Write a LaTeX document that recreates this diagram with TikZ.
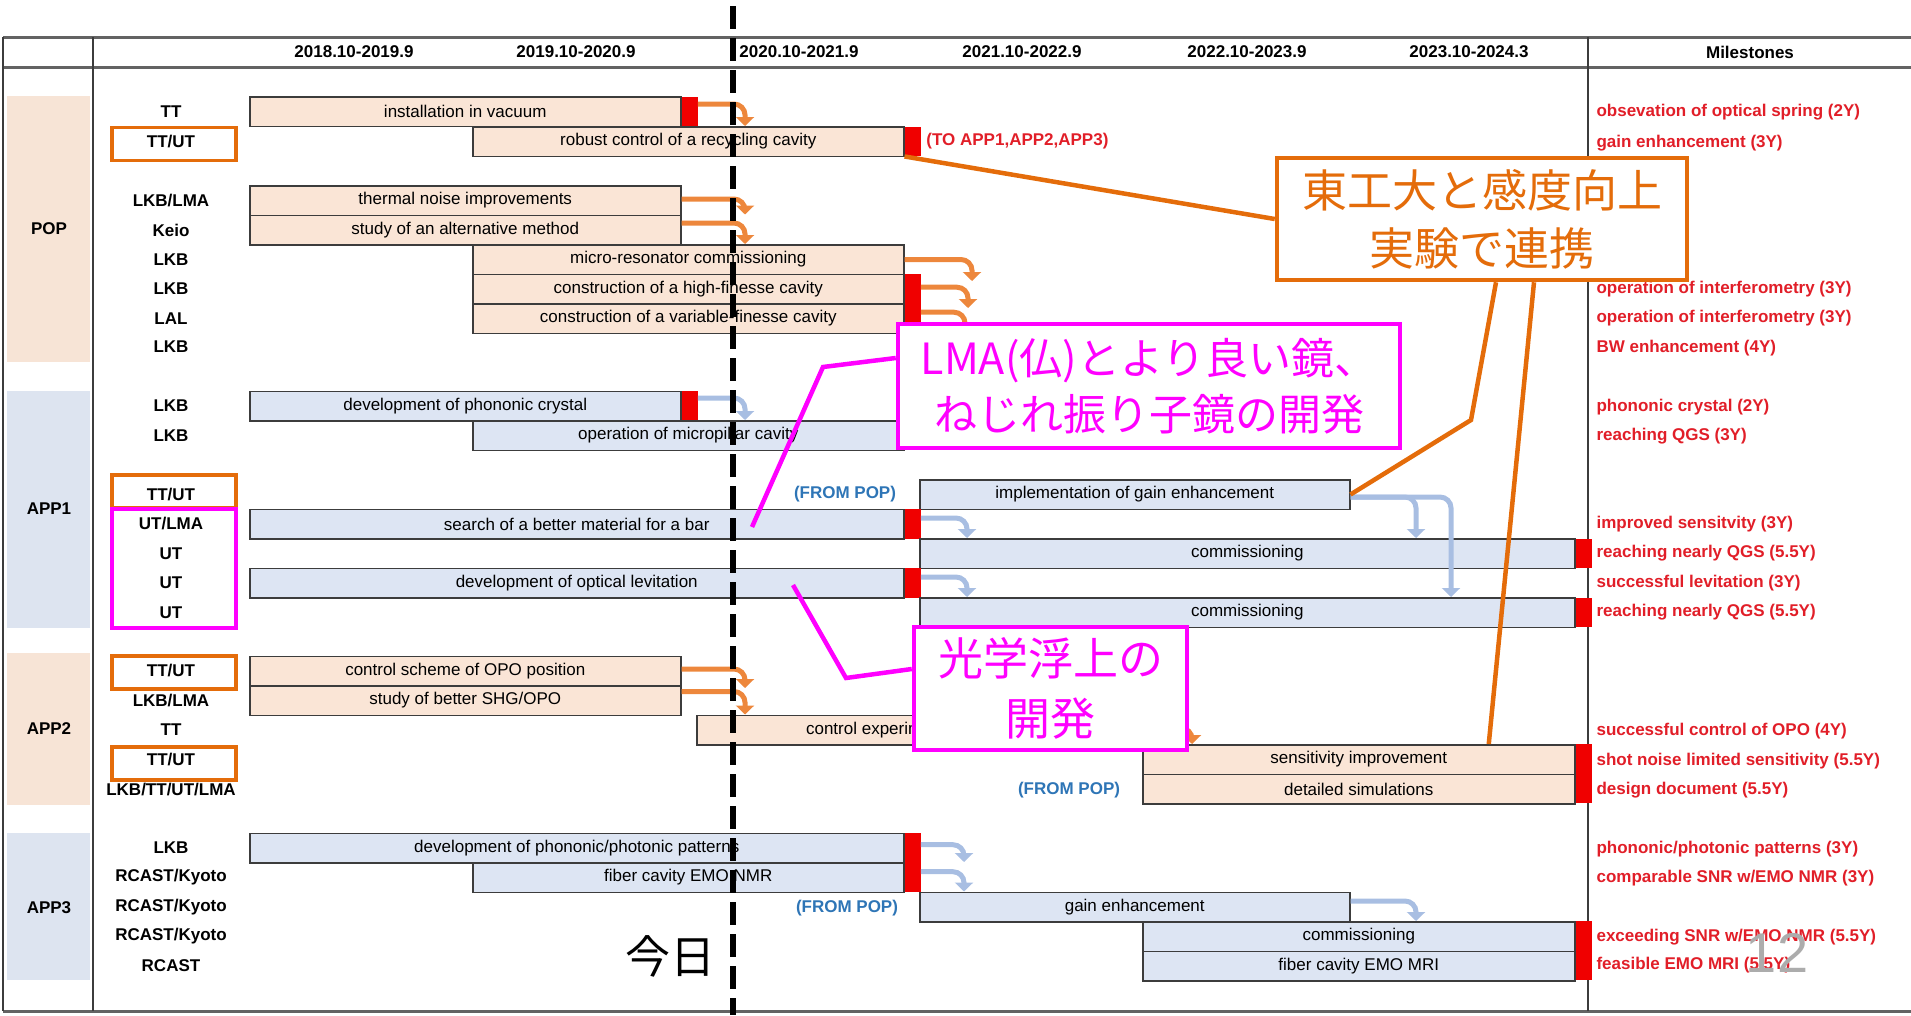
\documentclass[tikz,border=0pt]{standalone}
\usepackage{fontspec}
\setmainfont{Liberation Sans}
\newfontfamily\cjk{Noto Sans CJK JP}
\usetikzlibrary{arrows.meta}
\definecolor{popfill}{RGB}{250,229,214}
\definecolor{appfill}{RGB}{221,229,243}
\definecolor{popband}{RGB}{247,228,214}
\definecolor{appband}{RGB}{221,228,240}
\definecolor{markred}{RGB}{240,0,0}
\definecolor{milered}{RGB}{225,30,40}
\definecolor{fromblue}{RGB}{46,117,182}
\definecolor{noteorange}{RGB}{228,108,10}
\definecolor{notemag}{RGB}{255,0,255}
\definecolor{flowor}{RGB}{237,135,60}
\definecolor{flowbl}{RGB}{168,190,226}
\definecolor{gridgray}{RGB}{60,60,60}
\tikzset{
  popbar/.style={draw=gridgray, line width=1.5pt, fill=popfill, anchor=west,
    minimum height=29.5pt, inner sep=0pt, font=\fontsize{17}{20}\selectfont},
  appbar/.style={popbar, fill=appfill},
  redmark/.style={fill=markred, anchor=west, minimum width=16pt,
    minimum height=29.5pt, inner sep=0pt},
  rowlab/.style={font=\bfseries\fontsize{17}{20}\selectfont},
  mile/.style={anchor=west, text=milered, font=\bfseries\fontsize{17}{20}\selectfont},
  frompop/.style={text=fromblue, font=\bfseries\fontsize{17}{20}\selectfont},
  oflow/.style={draw=flowor, line width=5pt, rounded corners=11pt,
    -{Triangle[length=9pt,width=18pt]}},
  bflow/.style={oflow, draw=flowbl},
  labbox/.style={draw=noteorange, line width=3.5pt, minimum width=124pt,
    minimum height=33pt, inner sep=0pt},
  note/.style={draw=noteorange, line width=4.5pt, fill=white, text=noteorange,
    align=center, inner sep=0pt, font=\cjk\fontsize{45}{58}\selectfont},
  mnote/.style={note, draw=notemag, text=notemag},
  noteline/.style={draw=noteorange, line width=4.5pt},
  mline/.style={draw=notemag, line width=4.5pt}
}
\begin{document}
\begin{tikzpicture}[x=1pt,y=-1pt]
\useasboundingbox (0,0) rectangle (1911,1015);
\fill[popband] (7,96) rectangle (90,362);
\fill[appband] (7,391) rectangle (90,628);
\fill[popband] (7,653) rectangle (90,805);
\fill[appband] (7,833) rectangle (90,980);
\draw[gridgray!80, line width=3pt] (3,37) -- (1911,37) (3,67) -- (1911,67) (3,1011) -- (1911,1011);
\draw[gridgray, line width=1.5pt] (3,37) -- (3,1011) (93,37) -- (93,1011) (1588,37) -- (1588,1011);

\foreach \x/\t [count=\i] in {354/{2018.10-2019.9}, 576/{2019.10-2020.9}, 799/{2020.10-2021.9},
  1022/{2021.10-2022.9}, 1247/{2022.10-2023.9}, 1469/{2023.10-2024.3}, 1750/{Milestones}}
  \node[rowlab] (hd\i) at (\x,52) {\t};
\node[rowlab] (gPOP) at (49,229) {POP};
\node[rowlab] (gAPP1) at (49,509) {APP1};
\node[rowlab] (gAPP2) at (49,729) {APP2};
\node[rowlab] (gAPP3) at (49,908) {APP3};
\foreach \y/\t [count=\i] in {111.5/TT, 141.5/{TT/UT}, 200.5/{LKB/LMA}, 230/Keio, 259.5/LKB,
  289/LKB, 318.5/LAL, 347/LKB, 406/LKB, 435.5/LKB, 494.5/{TT/UT}, 524/{UT/LMA}, 553.5/UT,
  583/UT, 612.5/UT, 671/{TT/UT}, 700.5/{LKB/LMA}, 730/TT, 759.5/{TT/UT}, 789/{LKB/TT/UT/LMA},
  848/LKB, 877.5/{RCAST/Kyoto}, 907/{RCAST/Kyoto}, 936.5/{RCAST/Kyoto}, 966/RCAST}
  \node[rowlab] (row\i) at (171,\y) {\t};

\node[popbar, minimum width=431pt] (vac) at (249,111.5) {installation in vacuum};
\node[redmark] (vacR) at (vac.east) {};
\node[popbar, minimum width=431pt] (rob) at (472,141.5) {robust control of a recycling cavity};
\node[redmark] (robR) at (rob.east) {};
\node[mile] (toApp) at ([xshift=2pt]robR.east) {(TO APP1,APP2,APP3)};
\node[popbar, minimum width=431pt] (thn) at (249,200.5) {thermal noise improvements};
\node[popbar, minimum width=431pt] (alt) at (249,230) {study of an alternative method};
\node[popbar, minimum width=431pt] (mic) at (472,259.5) {micro-resonator commissioning};
\node[popbar, minimum width=431pt] (hfc) at (472,289) {construction of a high-finesse cavity};
\node[popbar, minimum width=431pt] (vfc) at (472,318.5) {construction of a variable-finesse cavity};
\node[redmark, anchor=north west, minimum height=59pt] (hfcR) at (hfc.north east) {};

\node[appbar, minimum width=431pt] (pho) at (249,406) {development of phononic crystal};
\node[redmark] (phoR) at (pho.east) {};
\node[appbar, minimum width=431pt] (mpc) at (472,435.5) {operation of micropillar cavity};
\node[redmark] (mpcR) at (mpc.east) {};
\node[appbar, minimum width=430pt] (ige) at (919,494.5) {implementation of gain enhancement};
\node[frompop] (fp1) at (845,494) {(FROM POP)};
\node[appbar, minimum width=654pt] (sbm) at (249,524) {search of a better material for a bar};
\node[redmark] (sbmR) at (sbm.east) {};
\node[appbar, minimum width=655pt] (co1) at (919,553.5) {commissioning};
\node[redmark] (co1R) at (co1.east) {};
\node[appbar, minimum width=654pt] (lev) at (249,583) {development of optical levitation};
\node[redmark] (levR) at (lev.east) {};
\node[appbar, minimum width=655pt] (co2) at (919,612.5) {commissioning};
\node[redmark] (co2R) at (co2.east) {};

\node[popbar, minimum width=431pt] (ops) at (249,671) {control scheme of OPO position};
\node[popbar, minimum width=431pt] (shg) at (249,700.5) {study of better SHG/OPO};
\node[popbar, minimum width=447pt] (cex) at (696,730) {};
\node[font=\fontsize{17}{20}\selectfont] (cexT) at (876,730) {control experiment};
\node[popbar, minimum width=432pt] (sen) at (1142,759.5) {sensitivity improvement};
\node[popbar, minimum width=432pt] (sim) at (1142,789) {detailed simulations};
\node[redmark, anchor=north west, minimum height=59pt] (senR) at (sen.north east) {};
\node[frompop] (fp2) at (1069,790) {(FROM POP)};

\node[appbar, minimum width=654pt] (ppp) at (249,848) {development of phononic/photonic patterns};
\node[appbar, minimum width=431pt] (emo) at (472,877.5) {fiber cavity EMO NMR};
\node[redmark, anchor=north west, minimum height=59pt] (pppR) at (ppp.north east) {};
\node[appbar, minimum width=430pt] (gen) at (919,907) {gain enhancement};
\node[frompop] (fp3) at (847,908) {(FROM POP)};
\node[appbar, minimum width=432pt] (cms) at (1142,936.5) {commissioning};
\node[appbar, minimum width=432pt] (mri) at (1142,966) {fiber cavity EMO MRI};
\node[redmark, anchor=north west, minimum height=59pt] (cmsR) at (cms.north east) {};

\foreach \y/\t [count=\i] in {112/{obsevation of optical spring (2Y)}, 143/{gain enhancement (3Y)},
  289/{operation of interferometry (3Y)}, 318/{operation of interferometry (3Y)},
  348/{BW enhancement (4Y)}, 407/{phononic crystal (2Y)}, 436/{reaching QGS (3Y)},
  524/{improved sensitvity (3Y)}, 553/{reaching nearly QGS (5.5Y)},
  583/{successful levitation (3Y)}, 612/{reaching nearly QGS (5.5Y)},
  731/{successful control of OPO (4Y)}, 761/{shot noise limited sensitivity (5.5Y)},
  790/{design document (5.5Y)}, 849/{phononic/photonic patterns (3Y)},
  878/{comparable SNR w/EMO NMR (3Y)}, 937/{exceeding SNR w/EMO NMR (5.5Y)},
  965/{feasible EMO MRI (5.5Y)}}
  \node[mile] (ms\i) at (1593,\y) {\t};

\coordinate (tMic) at (972,281);
\coordinate (tHfc) at (968,308);
\coordinate (tVfc) at (965,338);
\coordinate (tOps) at (745,688);
\coordinate (tPpp) at (964,862);
\draw[oflow] ([yshift=7.5pt]vacR.east) -| (745,0 |- rob.north);
\draw[oflow] ([yshift=1.5pt]thn.east) -| (745,0 |- alt.north);
\draw[oflow] ([yshift=7pt]alt.east) -| (745,0 |- mic.north);
\draw[oflow] (mic.east) -| (tMic);
\draw[oflow] ([yshift=16pt]hfcR.east) -| (tHfc);
\draw[oflow] ([yshift=-9pt]hfcR.east) -| (tVfc);
\draw[bflow] ([yshift=8pt]phoR.east) -| (745,0 |- mpc.north);
\draw[bflow] ([yshift=6pt]sbmR.east) -| (967,0 |- co1.north);
\draw[bflow] ([yshift=6pt]levR.east) -| (967,0 |- co2.north);
\draw[bflow] ([yshift=-2.5pt]ige.east) -| (1416,0 |- co1.north);
\draw[bflow] ([yshift=-2.5pt]ige.east) -| (1451,0 |- co2.north);
\draw[oflow] ([yshift=2pt]ops.east) -| (tOps);
\draw[oflow] ([yshift=9pt]shg.east) -| (745,0 |- cex.north);
\draw[oflow] ([yshift=2pt]cex.east) -| (1192,0 |- sen.north);
\draw[bflow] ([yshift=17.5pt]pppR.east) -| (tPpp);
\draw[bflow] ([yshift=-9.5pt]pppR.east) -| (964,0 |- gen.north);
\draw[bflow] ([yshift=6pt]gen.east) -| (1416,0 |- cms.north);

\draw[line width=6pt, dash pattern=on 23pt off 9pt] (733,6) -- (733,1015);
\node[font=\cjk\fontsize{45}{50}\selectfont] (today) at (670,956) {今日};
\node[text=gray!65, font=\fontsize{56}{60}\selectfont] (pageNo) at (1777,953) {12};

\node[labbox] (kPOP) at (174,144) {};
\node[labbox] (kAPP1) at (174,491.5) {};
\node[labbox] (kAPP2a) at (174,672.5) {};
\node[labbox] (kAPP2b) at (174,763.5) {};
\node[labbox, draw=notemag, minimum height=119pt] (kUT) at (174,568.5) {};

\node[note, minimum width=410pt, minimum height=122pt] (nTT) at (1482,219) {東工大と感度向上\\実験で連携};
\node[mnote, minimum width=502pt, minimum height=124pt, font=\cjk\fontsize{43}{56}\selectfont]
  (mLMA) at (1149,386) {LMA(仏)とより良い鏡、\\ねじれ振り子鏡の開発};
\node[mnote, minimum width=273pt, minimum height=123pt, font=\cjk\fontsize{45}{60}\selectfont]
  (mLev) at (1050.5,688.5) {光学浮上の\\開発};

\coordinate (bTT) at (1471,420);
\coordinate (bLMA) at (823,367);
\coordinate (pLMA) at (752,527);
\coordinate (bLev) at (846,678);
\coordinate (pLev) at (793,585);
\draw[noteline] (nTT.west) -- (robR.south west);
\draw[noteline] ([xshift=14pt]nTT.south) -- (bTT) -- (ige.east);
\draw[noteline] ([xshift=52pt]nTT.south) -- ([xshift=130pt]sen.north);
\draw[mline] ([yshift=28pt]mLMA.west) -- (bLMA) -- (pLMA);
\draw[mline] ([yshift=19.5pt]mLev.west) -- (bLev) -- (pLev);
\end{tikzpicture}
\end{document}
